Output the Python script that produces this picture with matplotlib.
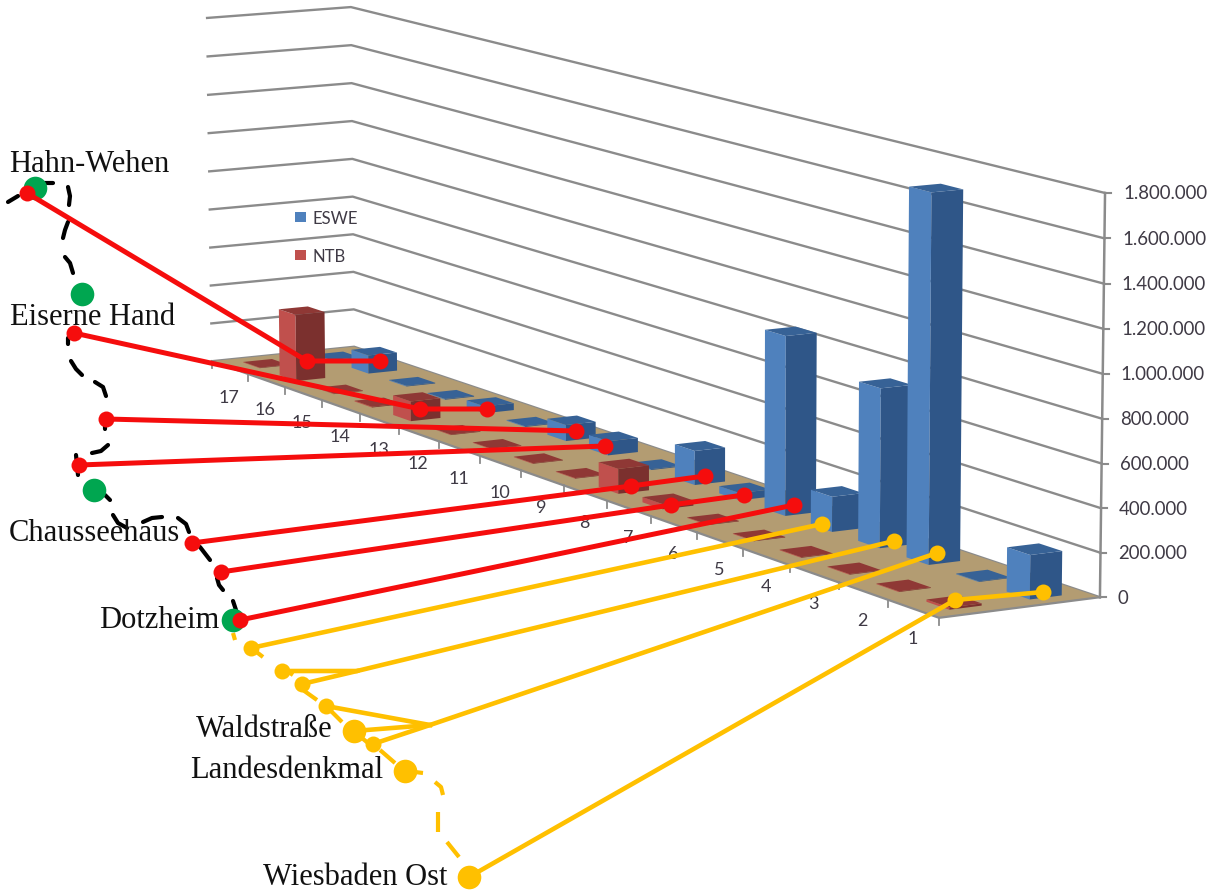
import numpy as np
import matplotlib
matplotlib.use("Agg")
import matplotlib.pyplot as plt
from matplotlib.patches import Polygon

# Yearly amounts per route section, front row first
rows = list(range(1, 18))
eswe = [200, 3, 1695, 740, 165, 850, 35, 165, 4, 70, 80, 4, 35, 4, 4, 95, 4]
ntb = [10, 3, 3, 3, 3, 3, 25, 120, 3, 3, 3, 3, 100, 4, 3, 345, 3]
value_ticks = [0, 200, 400, 600, 800, 1000, 1200, 1400, 1600, 1800]
value_labels = ["0", "200.000", "400.000", "600.000", "800.000", "1.000.000",
                "1.200.000", "1.400.000", "1.600.000", "1.800.000"]

# Route stops: (x, y) on the sheet
green_stops = [(35, 188), (82, 294), (94, 490), (233, 620)]
stop_names = [("Hahn-Wehen", 9, 172), ("Eiserne Hand", 10, 325), ("Chausseehaus", 9, 541),
              ("Dotzheim", 99, 628), ("Waldstraße", 196, 737), ("Landesdenkmal", 190, 778),
              ("Wiesbaden Ost", 263, 885)]

# Leader lines from the stops to the bars
red_leaders = [
    [(27, 193), (307, 361), (380, 361)],
    [(74, 333), (420, 409), (487, 409)],
    [(106, 419), (576, 431)],
    [(79, 465), (605, 446)],
    [(192, 543), (631, 486), (705, 476)],
    [(221, 572), (671, 505), (744, 495)],
    [(240, 620), (794, 505)],
]
yellow_leaders = [
    [(251, 648), (822, 524)],
    [(282, 671), (357, 671), (894, 541)],
    [(302, 684), (357, 671)],
    [(326, 706), (430, 725)],
    [(354, 731), (430, 725)],
    [(373, 744), (430, 725), (937, 553)],
    [(469, 877), (955, 600), (1043, 592)],
]
red_dots = [(27, 193), (74, 333), (106, 419), (79, 465), (192, 543), (221, 572), (240, 620),
            (307, 361), (380, 361), (420, 409), (487, 409), (576, 431), (605, 446),
            (631, 486), (705, 476), (671, 505), (744, 495), (794, 505)]
yellow_small = [(251, 648), (282, 671), (302, 684), (326, 706), (373, 744),
                (822, 524), (894, 541), (937, 553), (955, 600), (1043, 592)]
yellow_big = [(354, 731), (405, 771), (469, 877)]

# Hand-drawn dashes of the route
black_dashes = [
    [(8, 202), (18, 196)], [(43, 183), (53, 183)], [(68, 187), (70, 196), (69, 205)],
    [(68, 222), (65, 230), (63, 238)], [(65, 257), (70, 263), (73, 273)], [(83, 298), (83, 304)],
    [(68, 338), (68, 344)], [(71, 361), (76, 369), (82, 375)], [(95, 382), (103, 387), (106, 396)],
    [(105, 426), (105, 429)], [(92, 453), (101, 451), (108, 445)], [(76, 455), (78, 475)],
    [(105, 495), (110, 500)], [(113, 515), (118, 523), (127, 528)], [(143, 522), (152, 518), (162, 517)],
    [(178, 518), (186, 524), (189, 532)], [(200, 547), (210, 560)], [(217, 578), (219, 585), (223, 590)],
    [(233, 601), (236, 610)],
]
yellow_dashes = [
    [(233, 633), (235, 640)], [(250, 647), (263, 657)], [(287, 671), (293, 675)],
    [(303, 690), (317, 700)], [(330, 710), (342, 722)], [(362, 738), (368, 743)],
    [(380, 750), (395, 763)], [(415, 772), (423, 773)], [(435, 782), (441, 787), (443, 795)],
    [(438, 812), (438, 832)], [(447, 842), (459, 857)],
]

# View calibration: (row position, depth, value) -> sheet position
view_world = np.array([(0, 2, 0), (0, 2, 1800), (17, 2, 0), (17, 2, 1800),
                       (17, 0, 0), (17, 0, 1800), (0, 0, 0)], float)
view_sheet = np.array([(1100, 597), (1105, 193), (354, 347), (351, 7),
                       (212, 361), (207, 18), (939, 618)], float)


def fit_camera(world, sheet):
    rows_a, rows_b = [], []
    for (u, w, v), (x, y) in zip(world, sheet):
        rows_a.append([u, w, v, 1, 0, 0, 0, 0, -x * u, -x * w, -x * v])
        rows_a.append([0, 0, 0, 0, u, w, v, 1, -y * u, -y * w, -y * v])
        rows_b += [x, y]
    sol = np.linalg.lstsq(np.array(rows_a), np.array(rows_b), rcond=None)[0]
    return np.append(sol, 1).reshape(3, 4)


camera = fit_camera(view_world, view_sheet)


def project(u, w, v):
    x, y, s = camera @ np.array([u, w, v, 1.0])
    return x / s, y / s


fig = plt.figure(figsize=(12.13, 8.90), dpi=100)
ax = fig.add_axes([0, 0, 1, 1])
ax.set_xlim(0, 1213)
ax.set_ylim(890, 0)
ax.axis("off")

GRID = "#8b8b8b"
TEXT = "#3f3a45"

# Walls
for val in value_ticks:
    pts = [project(0, 2, val), project(17, 2, val), project(17, 0, val)]
    ax.plot(*zip(*pts), color=GRID, lw=1.7, zorder=1, solid_joinstyle="miter")
    x0, y0 = project(0, 2, val)
    ax.plot([x0, x0 + 6], [y0, y0], color=GRID, lw=1.5, zorder=1)
ax.plot(*zip(project(0, 2, 0), project(0, 2, 1800)), color=GRID, lw=1.8, zorder=1)

# Floor
floor = [project(0, 0, 0), project(0, 2, 0), project(17, 2, 0), project(17, 0, 0)]
ax.add_patch(Polygon(floor, closed=True, fc="#b39c72", ec="none", zorder=2))
ax.plot(*zip(floor[3], floor[0], floor[1]), color=GRID, lw=1.6, zorder=2)
for i in range(18):
    x0, y0 = project(i, 0, 0)
    ax.plot([x0, x0], [y0, y0 + 7], color=GRID, lw=1.3, zorder=2)
for r in rows:
    x0, y0 = project(r - 0.5, 0, 0)
    ax.text(x0 - 1, y0 + 30, str(r), fontsize=13, family="Lato", color=TEXT,
            ha="center", va="center", zorder=3)

# Value labels follow the slightly leaning axis
for val, lab in zip(value_ticks, value_labels):
    x0, y0 = project(0, 2, val)
    ax.text(x0 + 18, y0 + 1, lab, fontsize=13.4, family="Lato", color=TEXT,
            ha="left", va="center", zorder=3)

# Bars, far rows first, back series before front series in each row
BAR_DU, BAR_DW = 0.45, 0.40
BLUE = ("#4f81bd", "#2f5688", "#376296")
RED = ("#c0504d", "#7b302e", "#8f3835")


def draw_bar(u, w, val, shades, z):
    u0, u1 = u - BAR_DU / 2, u + BAR_DU / 2
    w0, w1 = w - BAR_DW / 2, w + BAR_DW / 2
    left = [project(u0, w0, 0), project(u1, w0, 0), project(u1, w0, val), project(u0, w0, val)]
    right = [project(u0, w0, 0), project(u0, w1, 0), project(u0, w1, val), project(u0, w0, val)]
    top = [project(u0, w0, val), project(u1, w0, val), project(u1, w1, val), project(u0, w1, val)]
    for poly, col in zip((left, right, top), shades):
        ax.add_patch(Polygon(poly, closed=True, fc=col, ec="none", zorder=z))


order = 4.0
for r in reversed(rows):
    i = r - 1
    draw_bar(r - 0.5, 1.5, eswe[i], BLUE, order)
    order += 0.01
    draw_bar(r - 0.5, 0.5, ntb[i], RED, order)
    order += 0.01

# Legend
for y, col, name in [(217, "#4f81bd", "ESWE"), (255, "#c0504d", "NTB")]:
    ax.add_patch(Polygon([(295, y - 5), (306, y - 5), (306, y + 5), (295, y + 5)],
                         closed=True, fc=col, ec="none", zorder=3))
    ax.text(313, y + 2, name, fontsize=12, family="Lato", color=TEXT, va="center", zorder=3)

# Route sketch
for seg in black_dashes:
    ax.plot(*zip(*seg), color="black", lw=3.0, zorder=7, solid_capstyle="round")
for seg in yellow_dashes:
    ax.plot(*zip(*seg), color="#ffc000", lw=3.0, zorder=7, solid_capstyle="butt")

ax.plot(*zip(*green_stops), ls="none", marker="o", ms=17, mfc="#00a650", mec="none", zorder=8)

for name, x, y in stop_names:
    ax.text(x, y, name, fontsize=22, family="Liberation Serif", color="#111111",
            ha="left", va="baseline", zorder=9)

for line in yellow_leaders:
    ax.plot(*zip(*line), color="#ffc000", lw=3.3, zorder=10, solid_joinstyle="round")
ax.plot(*zip(*yellow_small), ls="none", marker="o", ms=11.5, mfc="#ffc000", mec="none", zorder=11)
ax.plot(*zip(*yellow_big), ls="none", marker="o", ms=17, mfc="#ffc000", mec="none", zorder=11)

for line in red_leaders:
    ax.plot(*zip(*line), color="#f50d0d", lw=3.6, zorder=12, solid_joinstyle="round")
ax.plot(*zip(*red_dots), ls="none", marker="o", ms=11.5, mfc="#f50d0d", mec="none", zorder=13)

fig.savefig("out.png", dpi=100)
